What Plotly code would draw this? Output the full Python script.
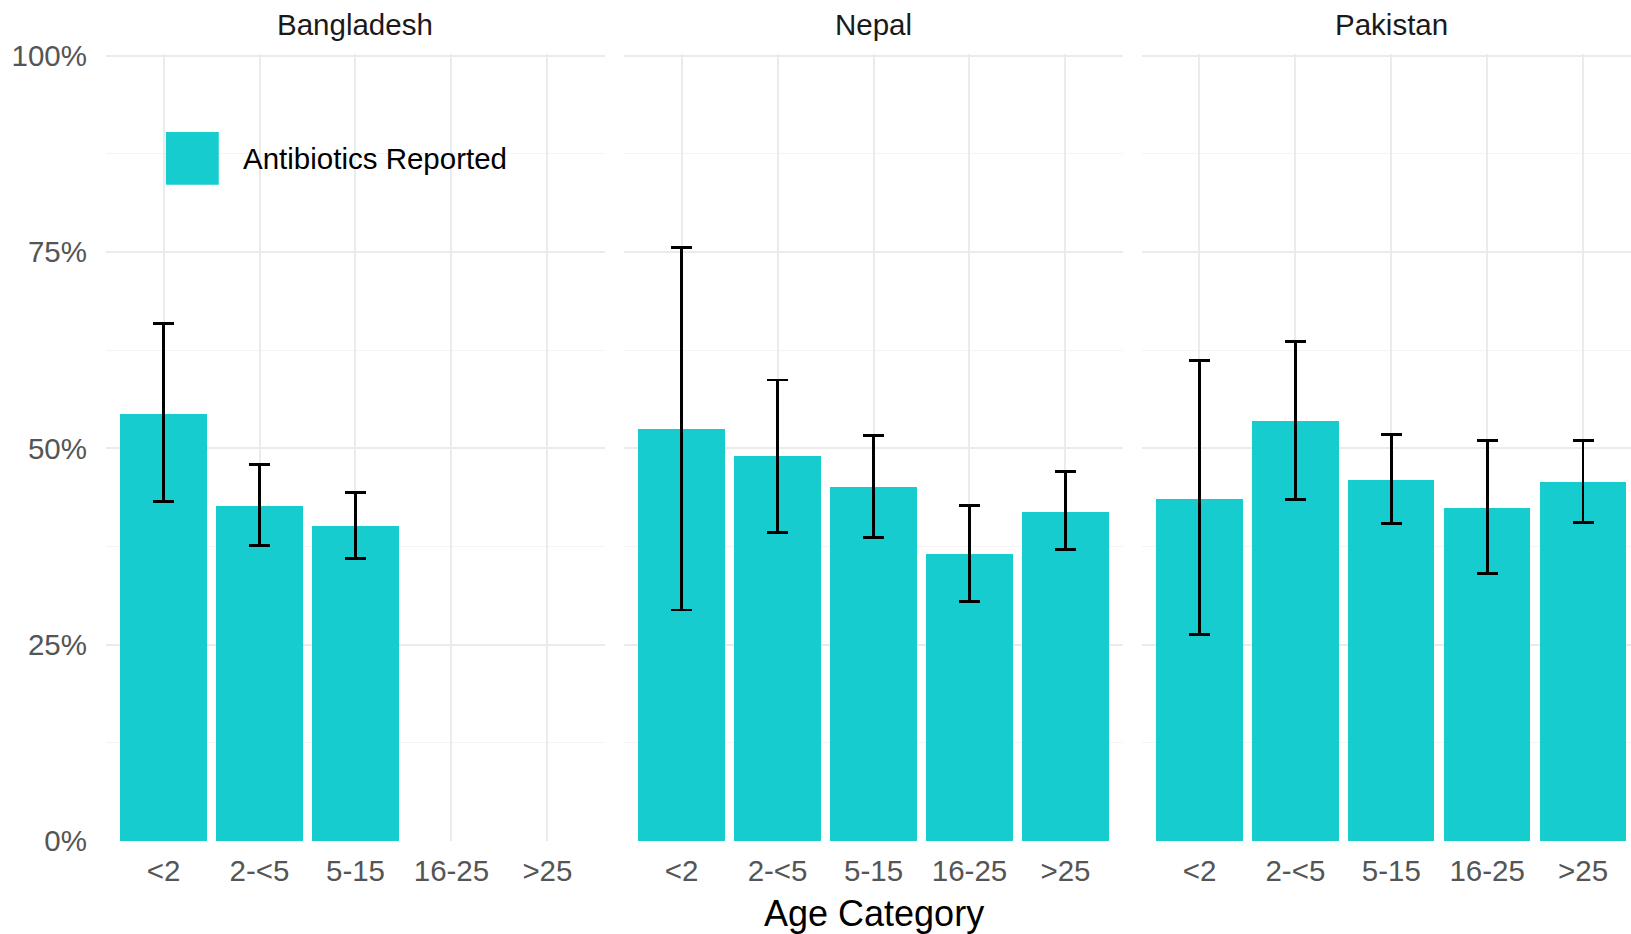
import plotly.graph_objects as go

categories = ["<2", "2-<5", "5-15", "16-25", ">25"]
countries = ["Bangladesh", "Nepal", "Pakistan"]

bangladesh_pct = [0.544, 0.427, 0.401, None, None]
bangladesh_low = [0.432, 0.376, 0.360, None, None]
bangladesh_high = [0.659, 0.479, 0.444, None, None]

nepal_pct = [0.525, 0.490, 0.451, 0.366, 0.419]
nepal_low = [0.294, 0.393, 0.386, 0.305, 0.371]
nepal_high = [0.756, 0.587, 0.516, 0.427, 0.470]

pakistan_pct = [0.435, 0.535, 0.460, 0.424, 0.457]
pakistan_low = [0.263, 0.435, 0.404, 0.341, 0.406]
pakistan_high = [0.612, 0.636, 0.518, 0.510, 0.510]

y_ticks = [0, 0.25, 0.5, 0.75, 1.0]
y_ticktext = ["0%", "25%", "50%", "75%", "100%"]

legend_label = "Antibiotics Reported"
x_title = "Age Category"

BAR = "#17CCCF"
FONT = "Liberation Sans, Arial, sans-serif"
GRID = "#EBEBEB"
MINOR = "#F4F4F4"
TICK = "#555555"

pct = [bangladesh_pct, nepal_pct, pakistan_pct]
low = [bangladesh_low, nepal_low, pakistan_low]
high = [bangladesh_high, nepal_high, pakistan_high]

xs = list(range(len(categories)))
fig = go.Figure()
for i in range(3):
    p, lo, hi = pct[i], low[i], high[i]
    plus = [None if v is None else h - v for v, h in zip(p, hi)]
    minus = [None if v is None else v - l for v, l in zip(p, lo)]
    sfx = "" if i == 0 else str(i + 1)
    fig.add_trace(go.Bar(
        x=xs, y=p, width=0.9, marker=dict(color=BAR, line=dict(width=0)),
        error_y=dict(type="data", array=plus, arrayminus=minus, symmetric=False,
                     color="black", thickness=2.8, width=10.5),
        xaxis="x" + sfx, yaxis="y" + sfx, showlegend=False, name=legend_label,
    ))

domains = [[0.0, 0.3272], [0.3397, 0.6669], [0.6793, 1.0]]
ranges = [[-0.6, 4.6], [-0.6, 4.6], [-0.6, 4.5]]
layout = {}
for i in range(3):
    sfx = "" if i == 0 else str(i + 1)
    layout["xaxis" + sfx] = dict(
        domain=domains[i], range=ranges[i], anchor="y" + sfx,
        tickvals=xs, ticktext=categories, showgrid=True, gridcolor=GRID, gridwidth=1.6,
        zeroline=False, showline=False, ticks="",
        tickfont=dict(family=FONT, size=29.5, color=TICK), ticklabelstandoff=9,
    )
    layout["yaxis" + sfx] = dict(
        domain=[0, 1], range=[0, 1.002], anchor="x" + sfx,
        tickvals=y_ticks, ticktext=y_ticktext, showticklabels=(i == 0),
        showgrid=True, gridcolor=GRID, gridwidth=1.6, zeroline=False, showline=False, ticks="",
        minor=dict(tickvals=[0.125, 0.375, 0.625, 0.875], showgrid=True, gridcolor=MINOR, gridwidth=1.2),
        tickfont=dict(family=FONT, size=29.5, color=TICK), ticklabelstandoff=18,
    )

annotations = []
for i, c in enumerate(countries):
    sfx = "" if i == 0 else str(i + 1)
    annotations.append(dict(text=c, xref="x" + sfx + " domain", yref="y domain",
                            x=0.5 if i < 2 else 0.5 * 5.2 / 5.1, y=1.037, showarrow=False,
                            xanchor="center", yanchor="middle",
                            font=dict(family=FONT, size=29.5, color="#1A1A1A")))
annotations.append(dict(text=x_title, xref="x2 domain", yref="paper", x=0.5, y=-0.092,
                        showarrow=False, xanchor="center", yanchor="middle",
                        font=dict(family=FONT, size=36, color="black")))
annotations.append(dict(text=legend_label, xref="x domain", yref="y domain", x=0.2705, y=0.867,
                        showarrow=False, xanchor="left", yanchor="middle",
                        font=dict(family=FONT, size=29.5, color="black")))

shapes = [dict(type="rect", xref="x domain", yref="y domain", x0=0.120, x1=0.226, y0=0.834, y1=0.901,
               fillcolor=BAR, line=dict(width=0), layer="above")]

fig.update_layout(
    width=1631, height=934, margin=dict(l=106, r=0, t=54, b=93),
    paper_bgcolor="white", plot_bgcolor="white", bargap=0,
    annotations=annotations, shapes=shapes, font=dict(family=FONT), **layout,
)
fig.write_html("out.html", config={"displayModeBar": False},
               post_script="document.body.style.margin='0';document.body.style.overflow='hidden';")
